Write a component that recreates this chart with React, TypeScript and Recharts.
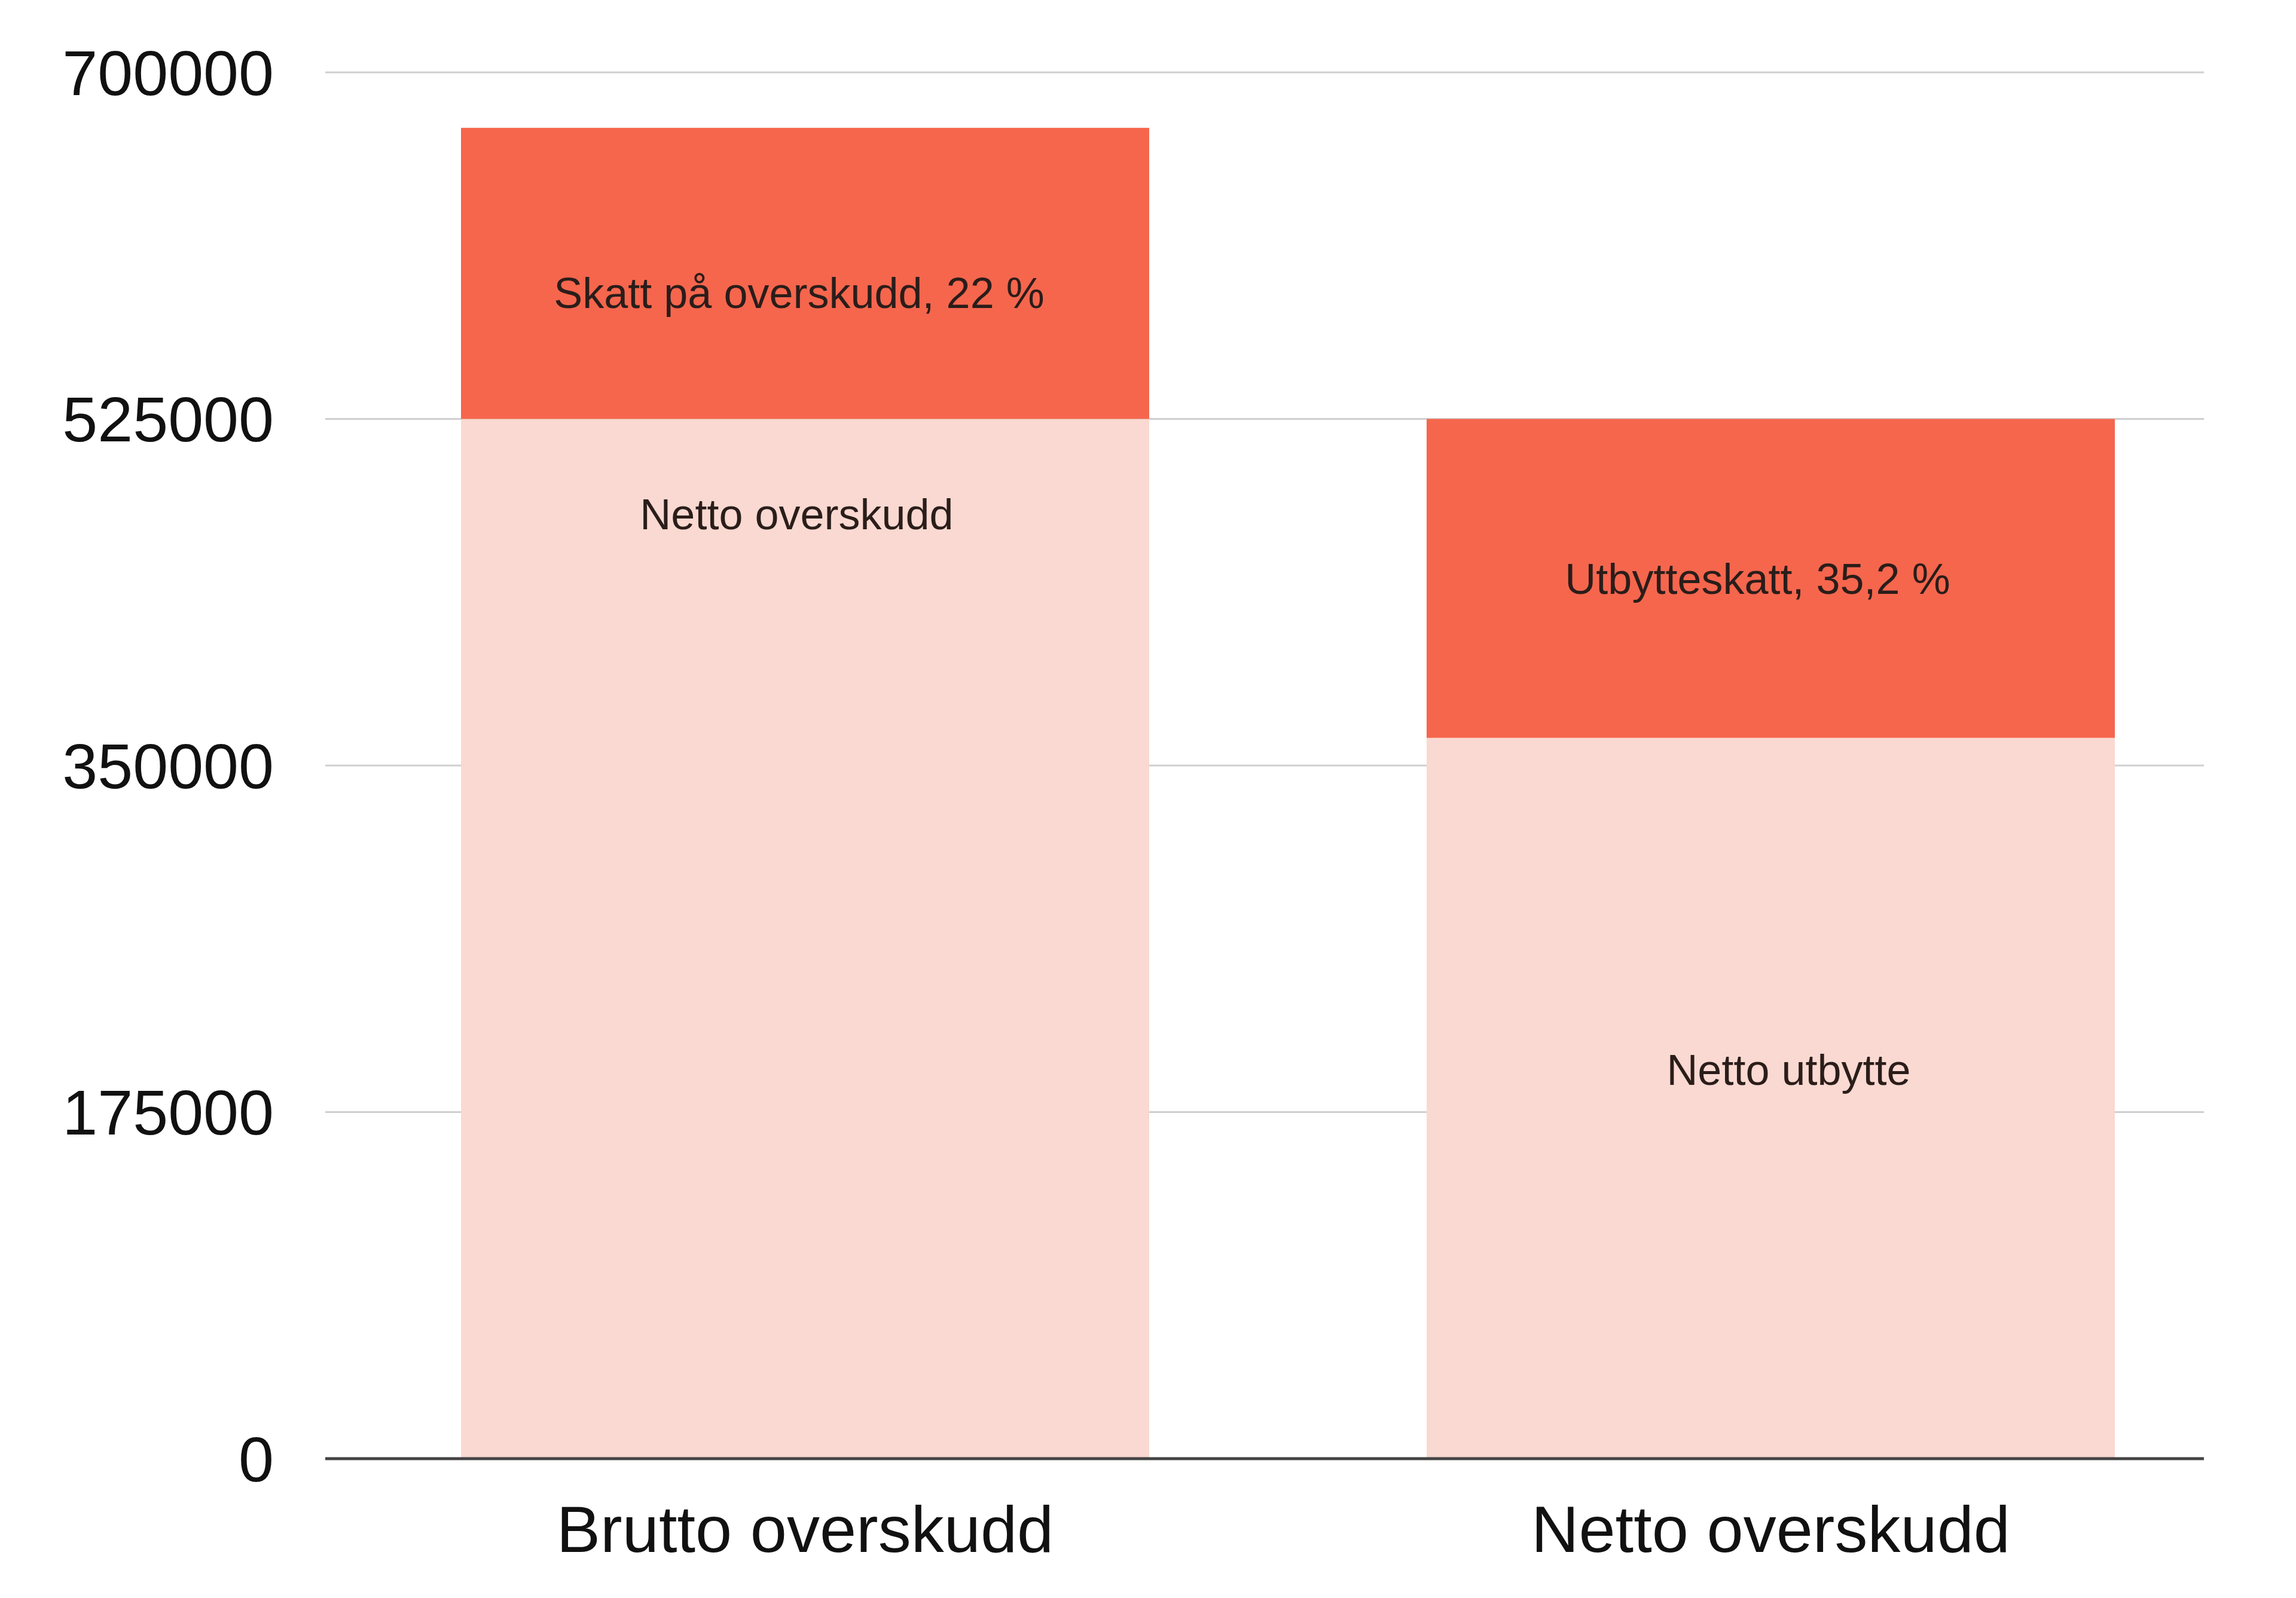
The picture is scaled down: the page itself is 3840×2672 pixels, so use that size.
import { Bar, BarChart, CartesianGrid, LabelList, XAxis, YAxis } from "recharts";

const categories = ["Brutto overskudd", "Netto overskudd"];
const nettoValues = [525000, 364000];
const skattValues = [147000, 161000];
const nettoLabels = ["Netto overskudd", "Netto utbytte"];
const skattLabels = ["Skatt på overskudd, 22 %", "Utbytteskatt, 35,2 %"];
const yTicks = [0, 175000, 350000, 525000, 700000];

const data = categories.map((name, i) => ({
  name,
  netto: nettoValues[i],
  skatt: skattValues[i],
  nettoLabel: nettoLabels[i],
  skattLabel: skattLabels[i],
}));

const FONT = '"Liberation Sans", Arial, Helvetica, sans-serif';
const LABEL_SIZE = 72;

// the labels in the original are not all centred in their segment
type Nudge = { from: "top" | "center"; dx: number; dy: number };
const nettoNudge: Nudge[] = [
  { from: "top", dx: -14, dy: 159 },
  { from: "center", dx: 30, dy: -48 },
];
const skattNudge: Nudge[] = [
  { from: "center", dx: -10, dy: 32 },
  { from: "center", dx: -22, dy: 0 },
];

function segmentLabel(nudges: Nudge[]) {
  return (props: any) => {
    const vb = props.viewBox ?? props;
    const n = nudges[props.index ?? 0] ?? { from: "center", dx: 0, dy: 0 };
    const cx = vb.x + vb.width / 2 + n.dx;
    const cy = (n.from === "top" ? vb.y : vb.y + vb.height / 2) + n.dy;
    return (
      <text
        x={cx}
        y={cy + LABEL_SIZE * 0.358}
        textAnchor="middle"
        fontFamily={FONT}
        fontSize={LABEL_SIZE}
        fill="#2a1d1a"
      >
        {props.value}
      </text>
    );
  };
}

export default function App() {
  return (
    <div style={{ width: 3824, height: 2650, background: "#fff" }}>
      <BarChart
        width={3824}
        height={2650}
        data={data}
        margin={{ top: 113, right: 146, left: 0, bottom: 19 }}
      >
        <CartesianGrid horizontal vertical={false} stroke="#cfcfcf" strokeWidth={3} />
        <XAxis
          dataKey="name"
          height={200}
          padding={{ left: -5, right: -83 }}
          tickLine={false}
          tickSize={0}
          tickMargin={78}
          axisLine={{ stroke: "#444", strokeWidth: 5 }}
          tick={{ fontSize: 110, fill: "#111", fontFamily: FONT }}
        />
        <YAxis
          width={536}
          domain={[0, 700000]}
          ticks={yTicks}
          tickFormatter={(v: number) => String(v)}
          axisLine={false}
          tickLine={false}
          tickSize={0}
          tickMargin={86}
          tick={{ fontSize: 106, fill: "#111", fontFamily: FONT }}
        />
        <Bar dataKey="netto" stackId="a" fill="#f9d9d1" barSize={1151} isAnimationActive={false}>
          <LabelList dataKey="nettoLabel" content={segmentLabel(nettoNudge)} />
        </Bar>
        <Bar dataKey="skatt" stackId="a" fill="#f5664d" barSize={1151} isAnimationActive={false}>
          <LabelList dataKey="skattLabel" content={segmentLabel(skattNudge)} />
        </Bar>
      </BarChart>
    </div>
  );
}
